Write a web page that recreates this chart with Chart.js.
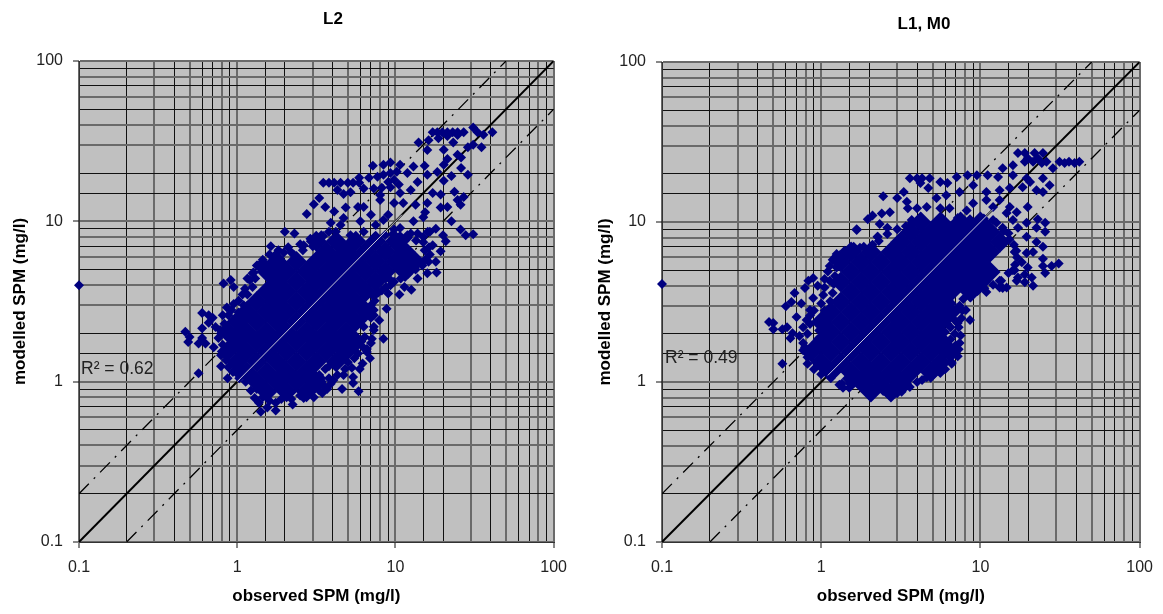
<!DOCTYPE html>
<html>
<head>
<meta charset="utf-8">
<title>SPM scatter</title>
<script src="https://cdn.jsdelivr.net/npm/chart.js@4"></script>
<style>
  html, body { margin: 0; padding: 0; background: #fff; overflow: hidden; width: 1163px; height: 614px; }
  canvas { position: absolute; top: 0; }
  #chartL2 { left: 0; }
  #chartL1 { left: 590px; }
</style>
</head>
<body>
<canvas id="chartL2" width="577" height="614"></canvas>
<canvas id="chartL1" width="573" height="614"></canvas>
<script>
// axis
const axisLabels = [0.1, 1, 10, 100];
const oneToOne = [[0.1, 0.1], [100, 100]];
const twiceLine = [[0.1, 0.2], [50, 100]];
const halfLine = [[0.2, 0.1], [100, 50]];
const paleL2 = [[1, 1], [11, 11]];
const paleL1 = [[1.1, 1.1], [12, 12]];

// the middle of each cloud is solid navy, single points can't be read there.
// rows: first number is modelled, rest are observed. drawn with a bigger mark
const coreL2 = [
  [7.5, 3.16,4.22,5.62,7.5,10],
  [6.49, 3.65,4.87,6.49,8.66,11.5],
  [5.62, 1.78,2.37,3.16,4.22,5.62,7.5,10,13.3],
  [4.87, 1.54,2.05,2.74,3.65,4.87,6.49,8.66,11.5],
  [4.22, 1.78,2.37,3.16,4.22,5.62,7.5],
  [3.65, 1.54,2.05,2.74,3.65,4.87,6.49],
  [3.16, 1.33,1.78,2.37,3.16,4.22,5.62],
  [2.74, 1.15,1.54,2.05,2.74,3.65,4.87,6.49],
  [2.37, 1,1.33,1.78,2.37,3.16,4.22,5.62],
  [2.05, 0.866,1.15,1.54,2.05,2.74,3.65,4.87],
  [1.78, 1,1.33,1.78,2.37,3.16,4.22,5.62],
  [1.54, 0.866,1.15,1.54,2.05,2.74,3.65,4.87],
  [1.33, 1,1.33,1.78,2.37,3.16,4.22],
  [1.15, 1.15,1.54,2.05,2.74],
  [1, 1.33,1.78,2.37,3.16],
  [0.866, 1.54,2.05,2.74]
];
const coreL1 = [
  [10, 4.22,5.62,7.5,10],
  [8.66, 3.65,4.87,6.49,8.66,11.5],
  [7.5, 3.16,4.22,5.62,7.5,10,13.3],
  [6.49, 1.54,2.05,2.74,3.65,4.87,6.49,8.66,11.5],
  [5.62, 1.33,1.78,2.37,3.16,4.22,5.62,7.5,10],
  [4.87, 1.54,2.05,2.74,3.65,4.87,6.49,8.66,11.5],
  [4.22, 1.33,1.78,2.37,3.16,4.22,5.62,7.5,10],
  [3.65, 1.54,2.05,2.74,3.65,4.87,6.49,8.66],
  [3.16, 1.33,1.78,2.37,3.16,4.22,5.62],
  [2.74, 1.15,1.54,2.05,2.74,3.65,4.87,6.49],
  [2.37, 1,1.33,1.78,2.37,3.16,4.22,5.62],
  [2.05, 1.15,1.54,2.05,2.74,3.65,4.87],
  [1.78, 1,1.33,1.78,2.37,3.16,4.22,5.62],
  [1.54, 0.866,1.15,1.54,2.05,2.74,3.65,4.87,6.49],
  [1.33, 1,1.33,1.78,2.37,3.16,4.22,5.62],
  [1.15, 1.15,1.54,2.05,2.74,3.65,4.87],
  [1, 1.78,2.37,3.16],
  [0.866, 2.05,2.74]
];

// points read one by one around the edge of the cloud [observed, modelled]
const pointsL2 = [
  [0.1,4],[0.47,2.05],[0.5,1.9],[0.49,1.77],[0.57,1.73],[0.6,1.87],[0.63,1.73],[0.71,1.64],[0.6,2.15],[0.6,2.68],
  [0.66,2.6],[0.7,2.5],[0.66,2.33],[0.73,2.19],[0.79,2],[0.81,2.6],[0.86,2.9],[0.95,3.05],[0.82,4.1],[0.91,4.3],
  [0.95,3.9],[1.16,4.4],[1.25,4.75],[1.33,5.3],[1.45,5.6],[1.63,7],[1.75,6.2],[1.97,6.4],[2.27,6.2],[2,8.6],
  [2.3,8.4],[2.63,7.1],[0.57,1.13],[0.87,1.05],[1.02,1.1],[0.79,1.25],[0.79,1.46],[1.37,0.74],[1.41,0.65],[1.55,0.69],
  [1.75,0.66],[1.75,0.74],[2.24,0.72],[2.63,0.79],[3.05,0.8],[3.45,0.85],[4.05,1.02],[4.7,1.1],[4.6,0.9],[5.4,1.07],
  [5.4,0.98],[5.85,0.87],[5.95,1.2],[6.6,1.53],[8.4,1.85],[7.9,2.42],[8.8,2.85],[9,3.55],[10.6,3.5],[11.4,3.9],
  [12.6,3.75],[13.8,4.4],[15.9,4.75],[7,1.74],[7.3,2.1],[7.3,2.8],[7.3,3.4],[9.3,4.3],
  [3.5,17.4],[3.8,17.4],[4.1,17.4],[4.5,17.4],[5,17.4],[5.4,17.4],[5.9,17.4],[5.9,18.7],[6.8,18.7],[4.3,15.7],
  [4.7,14.8],[5.2,15.2],[6.3,16],[3.3,14],[3.05,12.8],[3.6,12.3],[2.75,11.1],[4.85,12.2],[7.2,22.2],[8.4,22.5],
  [9.3,23.3],[10.7,22.5],[13,22],[15.3,22.2],[8.4,19.5],[9.3,20],[10.2,20.4],[11.9,20],[9,17.6],[9.8,18.2],
  [7.7,19],[8.2,16.2],[7.3,16],[8,14.6],[8,13.6],[9.3,16.3],[10.5,17],[10.7,15],[12.5,15.7],[13.8,17.6],
  [15.9,19.5],[18.4,20.3],[20.2,22.5],[20.2,17.9],[22.6,19.2],[26,21.5],[28.7,19.5],[23.6,15.3],[27,14.2],[24.7,13.6],
  [25.8,12.7],[19.3,14.7],[17.2,15],[15.9,27.9],[14,31],[16.2,32],[20.2,28],[23.2,31],[17.2,36],[18.4,36],
  [19.8,36],[21.3,36],[23,36],[24.7,36],[27,36],[18.7,33],[21.3,34],[24.7,34.6],[31,38.5],[33,36],
  [36,34.7],[41,36],[35,29],[28.7,29],[31,30],[24.7,26],[21.3,24.5],[26,25],[19.3,12.2],[21.3,12.3],
  [22.6,10],[25.8,8.9],[27.8,8.2],[31,8.3],[20,8.2],[18,9],[15.9,13],[15.4,11.4],[13.4,12.7],[11.2,13],
  [9.8,13],[9,11],[8.4,10.2],[7,11],[6.3,12.3],[5.8,12.3],[4.7,10.5],[4.1,11.5],[3.9,9.8],[6,10],
  [10.7,9.1],[13,10],[15,10.6],[16.5,8.6],[13.8,8.4],[11.9,8.2],[9.8,8.9],[4.5,9.5],[7.5,9.5],[4.2,8.6],
  [5.2,8.2],[6.3,8.6],[8.6,8.2],[10.7,8.1],[17.2,7.1],[19.3,6.5],[18,5.6],[20.8,7.5],[16.2,5.6],[15.3,6.6],[18.2,4.8],
  // rim of the solid part
  [0.81,1.7],[0.76,1.87],[0.78,2.1],[0.83,2.3],[0.88,2.6],[0.92,2.8],[1.02,3.2],[1.08,3.5],[1.12,3.8],[1.2,4.3],
  [1.27,4.8],[1.35,5.3],[1.45,5.75],[1.6,6.2],[1.82,6.6],[2.1,6.9],[2.5,7.2],[2.9,7.8],[3.4,8.2],[0.95,2],
  [0.98,2.3],[1.02,2.7],[1.1,3],[1.16,3.5],[1.25,3.9],[1.3,4.4],[1.45,5],[1.63,5.4],[1.85,5.9],[2.2,6.4],
  [2.6,6.6],[3,7],[0.85,1.36],[0.86,1.5],[0.88,1.23],[0.94,1.15],[1.03,1.05],[1.13,1],[1.22,0.88],[1.29,0.79],
  [1.05,1.22],[1.2,1.05],[1.33,0.9],[1.45,0.8],[1.6,0.76],[1.9,0.78],[2.2,0.78],[2.5,0.82],[2.9,0.85],[3.3,0.88],
  [3.7,0.9],[3.9,0.97],[3.5,0.95],[3.8,1.05],[4.3,1.1],[4.8,1.2],[6.9,1.4],[6.2,1.3],[5.3,1.22],[6.6,1.6],
  [7.1,1.85],[7.3,2.2],[7,2.5],[7.3,2.6],[7,3],[7.4,3.2],[7.8,3.6],[8.7,3.9],[9.8,4.2],[10.8,4.4],
  [12,4.7],[13.4,5],[14.8,5.3],[15.5,5.8],[16.5,6.2],[16.3,6.9],[15,7.4],[13.5,7.6],[12,7.9],[8.2,3.7],
  [9.3,4],[8.7,4.4],[11.8,5.2],[3.8,8.6],[3.5,8.1],[7.4,8],[9.6,8.3],[12.5,8.4],[15,8],[16,8.6],[11.5,7.6],
  [3.6,1.2],[3.3,1.1],[3.8,1.25],[4.2,1.25],[3.1,1.05],[3.4,1.05],[4.4,1.3],[5,1.32],[5.5,1.4],[5.8,1.5],
  [6.2,1.65],[6.4,1.9],[6.3,2.2],[6.2,2.5]
];
const pointsL1 = [
  [0.1,4.1],[0.47,2.37],[0.5,2.34],[0.5,2.14],[0.57,2.14],[0.61,2.2],[0.64,1.88],[0.66,2.02],[0.73,1.94],[0.77,2.2],
  [0.57,1.3],[0.6,2.98],[0.65,3.16],[0.68,3.6],[0.7,2.55],[0.75,3.1],[0.79,3.87],[0.83,4.3],[0.89,4.47],[0.89,3.35],
  [1.13,4.3],[0.95,4],[0.85,2.82],[0.81,2.44],[0.79,1.65],[0.82,1.43],[1,1.24],[1.1,1.22],[1.37,0.92],[1.35,0.98],
  [1.51,0.98],[1.75,1],[2.02,1],[2.6,0.85],[2.62,0.93],[3,0.85],[3.35,0.92],[3.45,0.98],[4.6,1.07],[5.6,1.14],
  [6.6,1.33],[7.4,1.75],[8.6,2.44],[8.1,2.82],[8.6,3.4],[7.2,2.34],[10.9,3.65],[13.8,3.87],[16.9,4.3],[13.2,4.3],
  [16,5],[1.51,6.5],[1.31,6.2],[1.75,6.9],[2,6.7],[2.26,8.1],[1.67,8.9],[1.22,6],
  [3.6,18.8],[4,18.8],[4.3,18.8],[4.8,18.8],[5.6,17.8],[6.2,17.5],[7.1,19.1],[8.3,19.6],[9.5,19.6],[11.1,19.6],
  [12.9,19.1],[16,19.6],[4.2,17.5],[4.7,16.3],[2.45,14.5],[3.3,15.4],[3,14.1],[3.45,13.4],[5.3,14.1],[6.1,14.7],
  [7.4,15.4],[9,17],[10.9,15.4],[13.2,15.8],[15.3,16.3],[18.4,16.5],[24.7,15.4],[22.5,15.8],[27.2,17],[24.7,18.8],
  [19.5,18.8],[13.8,21.7],[16,22.6],[17.2,27],[19,27],[21.9,27],[24.7,27],[19,23.8],[21.4,23.8],[24.3,23.4],
  [19.8,25],[22.9,25],[31.4,23.8],[36,23.8],[41.8,23.8],[33.8,23.4],[39,23.4],[26,23.8],[28.5,21.7],[20.5,17.8],
  [19.8,12.4],[16.9,11.5],[22.9,10.4],[25.5,9.9],[22.5,9.2],[25.5,8.7],[19.5,9.9],[19.5,8.1],[17.2,9.2],[16,10.3],
  [22.5,7.5],[24.7,7],[21.4,6.5],[19.5,6.4],[16.4,6.5],[24.7,5.9],[28,5.3],[31,5.5],[25.5,4.8],[24.7,5.3],
  [19.8,5.2],[18.2,5.6],[19,4.7],[21,4.5],[16.4,5],[21.4,4],[19,4.2],[14.6,3.9],[13.2,3.9],[17.2,4.5],
  [8.2,11.8],[9,13.1],[10,10.7],[10.9,13.7],[12,12.4],[13.2,13.7],[6.4,12.2],[5.6,12.2],[4.6,12.4],[4,12.2],
  [3.5,12.2],[4.2,10.7],[3.7,10.3],[2.7,11.5],[2.4,11.3],[2.1,11],[1.96,10.4],[2.33,9.7],[2.6,9.2],[1.67,9],
  [2.26,8.1],[7.2,10.6],[15.3,12.4],[14.6,11.4],[12.6,9.9],[10.4,9.3],
  // rim of the solid part
  [0.77,1.58],[0.77,1.75],[0.82,2],[0.85,2.3],[0.85,2.6],[0.9,2.8],[1,3.1],[1.03,3.5],[1.05,3.9],[1.05,4.4],
  [1.1,4.9],[1.13,5.3],[1.18,5.8],[1.25,6.3],[1.4,6.6],[1.6,7],[1.85,7],[2.1,7.2],[2.3,7.6],[2.6,8.4],
  [3,9],[3.4,9.4],[3.7,9.9],[0.9,1.6],[0.95,1.85],[0.97,2.1],[1,2.5],[1.05,2.8],[1.14,3.2],[1.18,3.6],
  [1.2,4.1],[1.22,4.6],[1.25,5.2],[1.4,5.9],[1.6,6.3],[0.82,1.3],[0.9,1.2],[1,1.12],[1.15,1.06],[1.3,0.96],
  [1.5,0.92],[1.2,1.2],[1.45,1.05],[1.6,0.98],[1.9,0.95],[2.2,0.92],[2.45,0.88],[2.8,0.84],[3.2,0.87],[3.6,0.93],
  [4,1],[4.3,1.03],[5,1.1],[5.4,1.18],[6,1.2],[6.6,1.3],[7.2,1.45],[7.3,1.6],[7.5,1.95],[7.3,2.2],
  [7.6,2.5],[7.7,2.8],[7.4,3],[7.8,3.3],[8.5,3.5],[9.6,3.7],[10.6,3.85],[12,4.05],[13.5,4.3],[15,4.8],
  [16.5,5.4],[17,6],[16.8,6.6],[16.2,7.2],[15.2,7.8],[15,8.5],[13.8,9.2],[12,10.3],[10.5,10.5],[8.6,10.4],[14,8.8],
  [6.6,3.1],[7,2.8],[6.6,2.6],[7,2.4],[6.5,2.2],[6.9,2],[6.5,1.85],[7,1.7],[6.4,3.4],[6,3],[6.2,2.3],[6,2.05],[6,1.85],
  [5.4,2.1],[5.6,1.6],[6,1.5],[6.6,1.5]
];

// gridlines come out in two weights, by leading digit of the value (1..9)
const softX = [1, 0, 1, 0, 1, 0, 0, 1, 0];
const softY = [1, 0, 1, 1, 0, 1, 0, 1, 0];

function toPoints(pairs) {
  return pairs.map(function (p) { return { x: p[0], y: p[1] }; });
}
function rowsToPoints(rows) {
  var out = [];
  rows.forEach(function (r) {
    r.slice(1).forEach(function (x) { out.push({ x: x, y: r[0] }); });
  });
  return out;
}
function digit(v) {
  var e = Math.floor(Math.log10(v) + 1e-9);
  return Math.round(v / Math.pow(10, e));
}
function isSoft(list, ctx) {
  if (!ctx.tick) return false;
  return list[digit(ctx.tick.value) - 1] == 1;
}
function isDecade(v) {
  return digit(v) == 1;
}

// grey plot background, R2 label, and the titles sit right of the plot centre
const plotDeco = {
  id: 'plotDeco',
  afterLayout: function (chart) {
    var o = chart.options.plugins.plotDeco, t = chart.titleBlock;
    var half = (t.right - t.left) / 2;
    t.left = o.titleX - half;
    t.right = o.titleX + half;
  },
  beforeDraw: function (chart) {
    var a = chart.chartArea, c = chart.ctx;
    c.save();
    c.fillStyle = '#C0C0C0';
    c.fillRect(a.left, a.top, a.width, a.height);
    c.restore();
  },
  afterDraw: function (chart) {
    var o = chart.options.plugins.plotDeco, c = chart.ctx;
    c.save();
    c.fillStyle = '#222';
    c.font = '17.5px "Liberation Sans", Arial, sans-serif';
    c.textBaseline = 'alphabetic';
    c.fillText(o.text, chart.scales.x.getPixelForValue(o.at[0]), chart.scales.y.getPixelForValue(o.at[1]));
    c.restore();
  }
};

function axis(title, softList, size, titlePad) {
  return {
    type: 'logarithmic',
    min: 0.1,
    max: 100,
    afterFit: function (s) {
      if (s.isHorizontal()) s.height = size; else s.width = size;
    },
    title: {
      display: true,
      text: title,
      color: '#000',
      font: { family: '"Liberation Sans", Arial, sans-serif', size: 17, weight: 'bold' },
      padding: { top: 0, bottom: titlePad }
    },
    border: { color: '#333', width: 1 },
    grid: {
      drawTicks: true,
      tickLength: 6,
      color: function (ctx) { return isSoft(softList, ctx) ? '#6a6a6a' : '#111'; },
      lineWidth: function (ctx) { return isSoft(softList, ctx) ? 2 : 1; },
      tickColor: function (ctx) { return ctx.tick && isDecade(ctx.tick.value) ? '#111' : 'transparent'; },
      tickWidth: 1
    },
    ticks: {
      autoSkip: false,
      maxRotation: 0,
      padding: 10,
      color: '#222',
      font: { family: '"Liberation Sans", Arial, sans-serif', size: 16 },
      callback: function (v) {
        return axisLabels.indexOf(v) >= 0 ? String(v) : '';
      }
    }
  };
}

function makeChart(id, cfg) {
  return new Chart(document.getElementById(id).getContext('2d'), {
    type: 'scatter',
    data: {
      datasets: [
        { label: 'pale', data: toPoints(cfg.pale), showLine: true, borderColor: '#c8c8d8', borderWidth: 1, pointRadius: 0, order: 0 },
        { label: 'observations', data: toPoints(cfg.points), backgroundColor: '#000080', borderColor: '#000080', pointStyle: 'rectRot', pointRadius: 5, borderWidth: 0, clip: false, order: 1 },
        { label: 'dense core', data: rowsToPoints(cfg.core), backgroundColor: '#000080', borderColor: '#000080', pointStyle: 'rectRot', pointRadius: 10.5, borderWidth: 0, order: 2 },
        { label: '1:1', data: toPoints(oneToOne), showLine: true, borderColor: '#000', borderWidth: 2, pointRadius: 0, order: 3 },
        { label: 'x2', data: toPoints(twiceLine), showLine: true, borderColor: '#000', borderWidth: 1.3, borderDash: [14, 7, 2, 7], pointRadius: 0, order: 3 },
        { label: '/2', data: toPoints(halfLine), showLine: true, borderColor: '#000', borderWidth: 1.3, borderDash: [14, 7, 2, 7], pointRadius: 0, order: 3 }
      ]
    },
    options: {
      responsive: false,
      animation: false,
      layout: { padding: { left: cfg.padLeft, right: cfg.padRight } },
      plugins: {
        legend: { display: false },
        tooltip: { enabled: false },
        title: {
          display: true,
          text: cfg.title,
          color: '#000',
          font: { family: '"Liberation Sans", Arial, sans-serif', size: 17, weight: 'bold' },
          padding: { top: cfg.titleTop, bottom: cfg.titleBottom }
        },
        plotDeco: { text: cfg.r2, at: cfg.r2At, titleX: cfg.titleX }
      },
      scales: {
        x: axis('observed SPM (mg/l)', softX, 72, 7),
        y: axis('modelled SPM (mg/l)', softY, cfg.yWidth, 0)
      }
    },
    plugins: [plotDeco]
  });
}

makeChart('chartL2', {
  title: 'L2', core: coreL2, points: pointsL2, pale: paleL2, r2: 'R\u00B2 = 0.62', r2At: [0.103, 1.11],
  padLeft: 10, padRight: 23, titleX: 333, titleTop: 9, titleBottom: 31.6, yWidth: 69
});
makeChart('chartL1', {
  title: 'L1, M0', core: coreL1, points: pointsL1, pale: paleL1, r2: 'R\u00B2 = 0.49', r2At: [0.1045, 1.31],
  padLeft: 5, padRight: 23, titleX: 334, titleTop: 14, titleBottom: 27.6, yWidth: 67
});
</script>
</body>
</html>
